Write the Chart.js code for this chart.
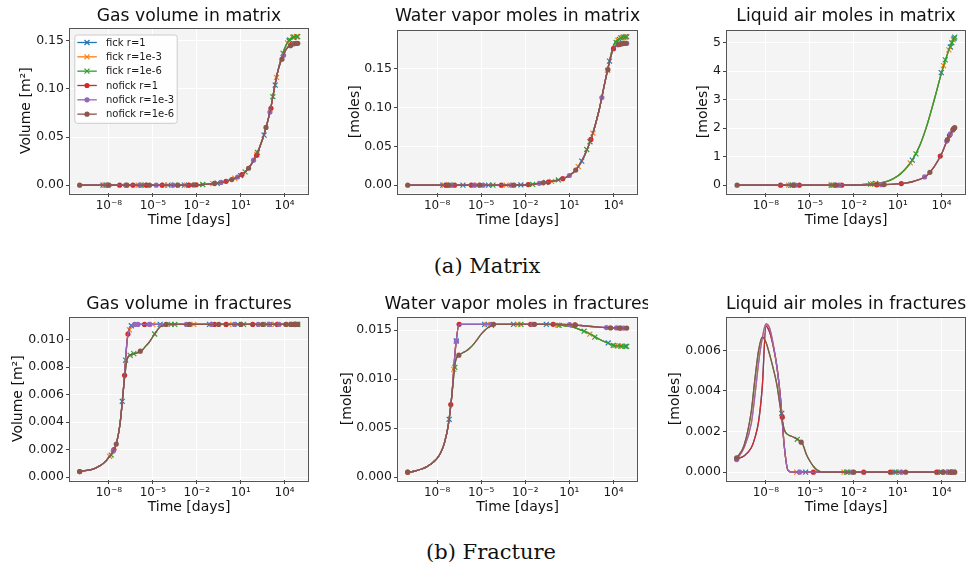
<!DOCTYPE html>
<html><head><meta charset="utf-8">
<script src="https://cdn.jsdelivr.net/npm/chart.js@4.4.0/dist/chart.umd.min.js"></script>
<style>
html,body{margin:0;padding:0;background:#fff;width:970px;height:568px;overflow:hidden;position:relative;font-family:"DejaVu Sans",sans-serif;}
.clipbox{position:absolute;left:0;overflow:hidden;height:30px;z-index:3;}
.ttl{position:absolute;width:400px;text-align:center;font-size:17.2px;line-height:17px;color:#111;white-space:nowrap;top:5px;}
.cap{position:absolute;width:300px;text-align:center;font-family:"DejaVu Serif",serif;font-size:21px;line-height:21px;color:#111;white-space:nowrap;z-index:3;}
</style></head><body>
<script>
// ---------------- data ----------------
const logTime = [-10,-9.5,-9,-8.75,-8.5,-8.25,-8,-7.75,-7.5,-7.25,-7,-6.75,-6.5,-6.25,-6,-5.75,-5.5,-5.25,-5,-4.75,-4.5,-4.25,-4,-3.5,-3,-2.5,-2,-1.5,-1,-0.5,0,0.5,1,1.5,2,2.5,3,3.5,4,4.5,4.9];

const seriesNames = ['fick r=1','fick r=1e-3','fick r=1e-6','nofick r=1','nofick r=1e-3','nofick r=1e-6'];
const xTickExps = [-8,-5,-2,1,4];
const xTickLabels = ['10\u207B\u2078','10\u207B\u2075','10\u207B\u00B2','10\u00B9','10\u2074'];

const gasMatrixYTicks = [0,0.05,0.10,0.15];
const waterMatrixYTicks = [0,0.05,0.10,0.15];
const liquidMatrixYTicks = [0,1,2,3,4,5];
const gasFracYTicks = [0,0.002,0.004,0.006,0.008,0.010];
const waterFracYTicks = [0,0.005,0.010,0.015];
const liquidFracYTicks = [0,0.002,0.004,0.006];

// curves on logTime grid
const gasMatrixFick = [0,0,0,0,0, 0,0,0,0,0, 0,0,0,0,0, 0,0,0,0,0, 0,0,0,0,0, 0.0001,0.0003,0.0008,0.0014,0.0024,0.0040,0.0065,0.0100,0.0168,0.0290,0.048,0.076,0.116,0.142,0.1535,0.1545];
const gasMatrixNofick = [0,0,0,0,0, 0,0,0,0,0, 0,0,0,0,0, 0,0,0,0,0, 0,0,0,0,0, 0.0001,0.0003,0.0008,0.0014,0.0024,0.0040,0.0065,0.0100,0.0168,0.0290,0.048,0.076,0.116,0.138,0.1468,0.1475];
const waterMatrixFick = [0,0,0,0,0, 0,0,0,0,0, 0,0,0,0,0, 0,0,0,0,0, 0,0,0,0,0, 0.0002,0.0005,0.0010,0.0025,0.0038,0.0055,0.0080,0.0125,0.021,0.037,0.061,0.095,0.140,0.180,0.190,0.1915];
const waterMatrixNofick = [0,0,0,0,0, 0,0,0,0,0, 0,0,0,0,0, 0,0,0,0,0, 0,0,0,0,0, 0.0002,0.0005,0.0010,0.0025,0.0038,0.0055,0.0080,0.0125,0.021,0.037,0.061,0.095,0.140,0.176,0.182,0.183];
const liquidMatrixFick = [0,0,0,0,0, 0,0,0,0,0, 0,0,0,0,0, 0,0,0,0,0, 0,0,0,0, 0.002,0.003,0.005,0.015,0.035,0.06,0.10,0.18,0.32,0.55,0.88,1.38,2.1,3.0,3.95,4.75,5.2];
const liquidMatrixNofick = [0,0,0,0,0, 0,0,0,0,0, 0,0,0,0,0, 0,0,0,0,0, 0,0,0,0, 0.001,0.0015,0.002,0.004,0.007,0.012,0.02,0.03,0.045,0.07,0.12,0.2,0.34,0.65,1.1,1.72,2.02];
const gasFracFast = [0.00040,0.00048,0.00062,0.00075,0.00090,0.00112,0.00145,0.0018,0.0024,0.0038,0.0065,0.0100,0.0110,0.0111,
  0.0111,0.0111,0.0111,0.0111,0.0111,0.0111,0.0111,0.0111,0.0111,0.0111,0.0111,0.0111,0.0111,0.0111,0.0111,0.0111,0.0111,0.0111,0.0111,0.0111,0.0111,0.0111,0.0111,0.0111,0.0111,0.0111,0.0111];
const gasFracSlow = [0.00040,0.00048,0.00062,0.00075,0.00090,0.00112,0.00145,0.0018,0.0024,0.0038,0.0065,0.0086,0.0089,0.00898,0.00905,0.0092,0.0095,0.0098,0.0102,0.0106,0.01093,0.0110,0.0111,
  0.0111,0.0111,0.0111,0.0111,0.0111,0.0111,0.0111,0.0111,0.0111,0.0111,0.0111,0.0111,0.0111,0.0111,0.0111,0.0111,0.0111,0.0111];
const waterFracFastFick = [0.00050,0.00062,0.00085,0.00102,0.00125,0.00155,0.0019,0.0025,0.0035,0.0052,0.0083,0.0132,0.0156,
  0.0156,0.0156,0.0156,0.0156,0.0156,0.0156,0.0156,0.0156,0.0156,0.0156,0.0156,0.0156,0.0156,0.0156,0.0156,0.0156,0.0156,
  0.01557,0.0155,0.0154,0.0152,0.0149,0.01455,0.0141,0.01375,0.01345,0.01337,0.01335];
const waterFracFastNofick = [0.00050,0.00062,0.00085,0.00102,0.00125,0.00155,0.0019,0.0025,0.0035,0.0052,0.0083,0.0132,0.0156,
  0.0156,0.0156,0.0156,0.0156,0.0156,0.0156,0.0156,0.0156,0.0156,0.0156,0.0156,0.0156,0.0156,0.0156,0.0156,0.0156,0.0156,
  0.0156,0.0156,0.01558,0.01553,0.01545,0.01538,0.01532,0.01527,0.01523,0.01522,0.01522];
const waterFracSlowFick = [0.00050,0.00062,0.00085,0.00102,0.00125,0.00155,0.0019,0.0025,0.0035,0.0052,0.0083,
  0.0118,0.01245,0.0127,0.0129,0.0132,0.0136,0.0141,0.0146,0.0150,0.0153,0.0155,0.0156,
  0.0156,0.0156,0.0156,0.0156,0.0156,0.0156,0.0156,
  0.01557,0.0155,0.0154,0.0152,0.0149,0.01455,0.0141,0.01375,0.01345,0.01337,0.01335];
const waterFracSlowNofick = [0.00050,0.00062,0.00085,0.00102,0.00125,0.00155,0.0019,0.0025,0.0035,0.0052,0.0083,
  0.0118,0.01245,0.0127,0.0129,0.0132,0.0136,0.0141,0.0146,0.0150,0.0153,0.0155,0.0156,
  0.0156,0.0156,0.0156,0.0156,0.0156,0.0156,0.0156,
  0.0156,0.0156,0.01558,0.01553,0.01545,0.01538,0.01532,0.01527,0.01523,0.01522,0.01522];
const liquidFracR1 = [0.00065,0.0008,0.0012,0.0017,0.0025,0.0042,0.0072,0.0069,0.0062,0.0052,0.0036,0.0013,0.0001,
  0,0,0,0,0,0,0,0,0,0,0,0,0,0,0,0,0,0,0,0,0,0,0,0,0,0,0,0];
const liquidFracR3 = [0.00062,0.0012,0.0024,0.0038,0.0054,0.0066,0.0073,0.0071,0.0063,0.0052,0.0036,0.0013,0.0001,
  0,0,0,0,0,0,0,0,0,0,0,0,0,0,0,0,0,0,0,0,0,0,0,0,0,0,0,0];
const liquidFracR6 = [0.0007,0.0013,0.0030,0.0046,0.0060,0.00665,0.0064,0.0058,0.0051,0.0043,0.0031,0.0021,0.00185,0.00177,0.00168,0.00157,0.0014,0.0009,0.00055,0.00028,0.0001,0.00002,
  0,0,0,0,0,0,0,0,0,0,0,0,0,0,0,0,0,0,0];

// marker points [log10 time, value]
const gasMatrixMarks = [
  [[-8.41,0],[-5.79,0],[-3.97,0],[-2.84,0],[-0.6,0.002],[1.0,0.0100],[2.6,0.052],[3.36,0.104],[4.3,0.150],[4.6,0.1538],[4.85,0.1545]],
  [[-8.3,0],[-6.0,0],[-4.2,0],[-2.7,0],[-0.9,0.0016],[0.6,0.0072],[2.1,0.032],[3.45,0.112],[4.2,0.148],[4.55,0.1537],[4.8,0.1545]],
  [[-8.2,0],[-5.6,0],[-3.5,0],[-1.59,0.0007],[1.3,0.0138],[2.15,0.034],[3.2,0.092],[3.9,0.137],[4.35,0.151],[4.65,0.154],[4.9,0.1545]],
  [[-7.27,0],[-6.36,0],[-5.45,0],[-4.36,0],[-2.54,0],[-2.04,0.0003],[0.0,0.004],[1.09,0.0110],[2.09,0.031],[3.07,0.080],[4.5,0.1468],[4.8,0.1474]],
  [[-8.13,0],[-6.86,0],[-5.9,0],[-4.77,0],[-3.63,0],[-0.34,0.0028],[0.79,0.0085],[1.88,0.026],[3.0,0.076],[3.93,0.135],[4.6,0.147]],
  [[-10,0],[-8.0,0],[-6.77,0],[-5.23,0],[-3.29,0],[-2.22,0.0002],[-0.79,0.0018],[0.39,0.0058],[1.54,0.0176],[2.73,0.060],[3.82,0.131],[4.4,0.145],[4.7,0.1472],[4.9,0.1475]]
];
const waterMatrixMarks = [
  [[-7.61,0],[-6.24,0],[-4.5,0],[-2.3,0.0003],[-0.6,0.0036],[1.84,0.031],[3.73,0.160],[4.4,0.188],[4.7,0.191],[4.9,0.1915]],
  [[-7.5,0],[-5.3,0],[-3.3,0],[-0.2,0.0048],[1.6,0.024],[2.6,0.067],[3.6,0.148],[4.3,0.187],[4.6,0.1905],[4.85,0.1915]],
  [[-7.1,0],[-4.2,0],[-1.5,0.001],[0.25,0.0067],[2.18,0.046],[2.4,0.056],[4.18,0.184],[4.5,0.190],[4.8,0.1912]],
  [[-7.38,0],[-6.81,0],[-5.67,0],[-3.63,0],[-1.8,0.0008],[-0.43,0.004],[0.55,0.0084],[2.46,0.059],[4.0,0.176],[4.4,0.1815],[4.75,0.183]],
  [[-7.04,0],[-5.44,0],[-4.87,0],[-2.95,0],[-1.05,0.0024],[1.0,0.0125],[3.21,0.113],[4.3,0.181],[4.6,0.1825],[4.9,0.183]],
  [[-10,0],[-7.22,0],[-5.1,0],[-2.77,0],[-0.78,0.003],[1.43,0.0195],[3.62,0.149],[4.35,0.1815],[4.55,0.1825],[4.7,0.183],[4.85,0.183]]
];
const liquidMatrixMarks = [
  [[-6.3,0],[-3.4,0],[-0.5,0.06],[2.0,0.88],[3.98,3.95],[4.6,4.85],[4.85,5.15]],
  [[-6.45,0],[-3.56,0],[-0.7,0.045],[1.86,0.78],[4.13,4.2],[4.5,4.75],[4.8,5.1]],
  [[-6.2,0],[-3.5,0],[-0.85,0.04],[2.25,1.1],[4.25,4.4],[4.7,5.0],[4.9,5.2]],
  [[-7.0,0],[-5.72,0],[-2.82,0.001],[-0.43,0.013],[1.25,0.057],[3.91,1.02],[4.54,1.75],[4.8,1.97]],
  [[-6.0,0],[-3.0,0],[-0.11,0.018],[2.84,0.29],[4.35,1.55],[4.6,1.8],[4.85,2.0]],
  [[-9.97,0],[-6.13,0],[-3.22,0],[0.07,0.021],[3.2,0.45],[4.4,1.6],[4.77,1.94],[4.9,2.02]]
];
const gasFracMarks = [
  [[-7.09,0.0055],[-6.86,0.0085],[-6.47,0.0110],[-4.5,0.0111],[-1.13,0.0111],[0.8,0.0111],[3.0,0.0111],[4.3,0.0111],[4.8,0.0111]],
  [[-7.95,0.0015],[-6.6,0.0107],[-5.0,0.0111],[-2.2,0.0111],[0.2,0.0111],[3.35,0.0111],[4.5,0.0111],[4.85,0.0111]],
  [[-7.85,0.0016],[-6.55,0.00885],[-6.3,0.00897],[-4.88,0.0104],[-3.75,0.0111],[-3.5,0.0111],[1.2,0.0111],[2.8,0.0111],[4.6,0.0111],[4.9,0.0111]],
  [[-10,0.0004],[-7.66,0.0020],[-6.93,0.0074],[-6.7,0.0104],[-5.57,0.0111],[-0.79,0.0111],[0.0,0.0111],[1.82,0.0111],[3.5,0.0111],[4.7,0.0111]],
  [[-7.7,0.0019],[-6.25,0.0111],[-6.02,0.0111],[-5.23,0.0111],[-2.71,0.0111],[-1.0,0.0111],[0.57,0.0111],[2.2,0.0111],[2.95,0.0111],[3.63,0.0111],[4.8,0.0111]],
  [[-10,0.0004],[-7.5,0.0024],[-5.86,0.00915],[-4.09,0.0111],[-2.5,0.0111],[-0.5,0.0111],[1.02,0.0111],[2.5,0.0111],[4.08,0.0111],[4.4,0.0111],[4.6,0.0111],[4.8,0.0111],[4.9,0.0111]]
];
const waterFracMarks = [
  [[-7.18,0.0059],[-6.7,0.0139],[-4.77,0.0156],[-2.8,0.0156],[-0.57,0.0156],[3.64,0.0137],[4.3,0.0134],[4.8,0.01335]],
  [[-6.86,0.0110],[-4.6,0.0156],[-2.5,0.0156],[0.2,0.01553],[2.39,0.0146],[4.1,0.01343],[4.6,0.01337]],
  [[-6.79,0.0112],[-4.3,0.0155],[-2.3,0.0156],[0.3,0.0155],[2.0,0.0149],[2.73,0.0143],[3.98,0.01346],[4.5,0.01337],[4.9,0.01335]],
  [[-10,0.0005],[-7.07,0.0074],[-6.5,0.0156],[-1.64,0.0156],[-0.11,0.0156],[1.37,0.01555],[4.5,0.01522]],
  [[-6.68,0.0139],[-4.3,0.0156],[-1.5,0.0156],[1.01,0.01558],[3.52,0.01527],[4.2,0.01523],[4.7,0.01522]],
  [[-10,0.0005],[-6.52,0.01245],[-4.16,0.0156],[-1.37,0.0156],[1.41,0.01553],[3.8,0.01524],[4.4,0.01522],[4.9,0.01522]]
];
const liquidFracMarks = [
  [[-6.92,0.0029],[-5.29,0],[-2.4,0],[0.9,0],[4.0,0],[4.6,0]],
  [[-5.9,0],[-2.67,0],[1.1,0],[4.3,0],[4.8,0]],
  [[-5.86,0.00162],[-2.5,0],[0.8,0],[3.9,0],[4.5,0]],
  [[-10,0.00065],[-6.88,0.0027],[-4.76,0],[-1.32,0],[0.5,0],[3.66,0],[4.7,0]],
  [[-10,0.00062],[-5.7,0],[-2.08,0],[1.26,0],[4.4,0],[4.85,0]],
  [[-10,0.0007],[-5.59,0.00148],[-2.0,0],[1.55,0],[4.1,0],[4.6,0],[4.9,0]]
];

// ---------------- styles / layout ----------------
const seriesColors = ['#1f77b4','#ff7f0e','#2ca02c','#d62728','#9467bd','#8c564b'];
const seriesMarkers = ['crossRot','crossRot','crossRot','circle','circle','circle'];
const X_MIN = Math.pow(10,-10.66), X_MAX = Math.pow(10,5.60);

const panels = [
 {title:'Gas volume in matrix', ylabel:'Volume [m\u00B2]', frame:[70,25,308,193], yTitleX:26.5, xTitleY:221, titleBase:21, clipRight:970,
  yMin:-0.00815, yMax:0.1629, yTicks:gasMatrixYTicks, dec:2, legend:true,
  curves:[gasMatrixFick,gasMatrixFick,gasMatrixFick,gasMatrixNofick,gasMatrixNofick,gasMatrixNofick], marks:gasMatrixMarks},
 {title:'Water vapor moles in matrix', ylabel:'[moles]', frame:[398,27,637,193], yTitleX:355.3, xTitleY:221, titleBase:21, clipRight:970,
  yMin:-0.0101, yMax:0.1995, yTicks:waterMatrixYTicks, dec:2, legend:false,
  curves:[waterMatrixFick,waterMatrixFick,waterMatrixFick,waterMatrixNofick,waterMatrixNofick,waterMatrixNofick], marks:waterMatrixMarks},
 {title:'Liquid air moles in matrix', ylabel:'[moles]', frame:[727,27,965,193], yTitleX:703.3, xTitleY:221, titleBase:21, clipRight:970,
  yMin:-0.275, yMax:5.43, yTicks:liquidMatrixYTicks, dec:0, legend:false,
  curves:[liquidMatrixFick,liquidMatrixFick,liquidMatrixFick,liquidMatrixNofick,liquidMatrixNofick,liquidMatrixNofick], marks:liquidMatrixMarks},
 {title:'Gas volume in fractures', ylabel:'Volume [m\u00B2]', frame:[70,314,308,480], yTitleX:18.8, xTitleY:507.5, titleBase:309, clipRight:970,
  yMin:-0.000214, yMax:0.0116, yTicks:gasFracYTicks, dec:3, legend:false,
  curves:[gasFracFast,gasFracFast,gasFracSlow,gasFracFast,gasFracFast,gasFracSlow], marks:gasFracMarks},
 {title:'Water vapor moles in fractures', ylabel:'[moles]', frame:[398,314,637,480], yTitleX:347.5, xTitleY:507.5, titleBase:309, clipRight:648,
  yMin:-0.0003, yMax:0.0163, yTicks:waterFracYTicks, dec:3, legend:false,
  curves:[waterFracFastFick,waterFracFastFick,waterFracSlowFick,waterFracFastNofick,waterFracFastNofick,waterFracSlowNofick], marks:waterFracMarks},
 {title:'Liquid air moles in fractures', ylabel:'[moles]', frame:[727,314,965,480], yTitleX:675.5, xTitleY:507.5, titleBase:309, clipRight:970,
  yMin:-0.000386, yMax:0.00762, yTicks:liquidFracYTicks, dec:3, legend:false,
  curves:[liquidFracR1,liquidFracR3,liquidFracR6,liquidFracR1,liquidFracR3,liquidFracR6], marks:liquidFracMarks}
];

function drawMarker(ctx, style, x, y, color){
  ctx.save(); ctx.strokeStyle=color; ctx.fillStyle=color; ctx.lineWidth=1.2;
  if(style==='circle'){ ctx.beginPath(); ctx.arc(x,y,2.6,0,Math.PI*2); ctx.fill(); }
  else { const d=2.5; ctx.beginPath(); ctx.moveTo(x-d,y-d); ctx.lineTo(x+d,y+d); ctx.moveTo(x-d,y+d); ctx.lineTo(x+d,y-d); ctx.stroke(); }
  ctx.restore();
}

const framePlugin = {
  id:'panelFrame',
  beforeDraw(chart){
    const {ctx, chartArea:a} = chart;
    ctx.save(); ctx.fillStyle='#f4f4f4'; ctx.fillRect(a.left,a.top,a.right-a.left,a.bottom-a.top); ctx.restore();
  },
  afterDraw(chart, args, opts){
    const {ctx, chartArea:a} = chart;
    ctx.save(); ctx.strokeStyle='#555'; ctx.lineWidth=1;
    ctx.strokeRect(Math.round(a.left)-0.5, Math.round(a.top)-0.5, Math.round(a.right-a.left)+1, Math.round(a.bottom-a.top)+1);
    ctx.restore();
    if(opts && opts.legend){
      const x0=a.left+4.3, y0=a.top+6, w=102.4, h=88.3;
      ctx.save();
      ctx.fillStyle='rgba(255,255,255,0.85)'; ctx.strokeStyle='#cccccc'; ctx.lineWidth=1;
      ctx.beginPath();
      if(ctx.roundRect){ ctx.roundRect(x0+0.5,y0+0.5,w,h,2.5); } else { ctx.rect(x0+0.5,y0+0.5,w,h); }
      ctx.fill(); ctx.stroke();
      ctx.font='10px "DejaVu Sans"'; ctx.textBaseline='middle'; ctx.textAlign='left';
      seriesNames.forEach((name,i)=>{
        const y=y0+8+i*14.33;
        ctx.strokeStyle=seriesColors[i]; ctx.lineWidth=1.3;
        ctx.beginPath(); ctx.moveTo(x0+3,y); ctx.lineTo(x0+22.5,y); ctx.stroke();
        drawMarker(ctx, seriesMarkers[i], x0+12.7, y, seriesColors[i]);
        ctx.fillStyle='#1a1a1a'; ctx.fillText(name, x0+31.7, y+0.5);
      });
      ctx.restore();
    }
  }
};

panels.forEach((p) => {
  const [L,T,R,B] = p.frame;
  const lh = 14*1.2;
  const cL = Math.round(p.yTitleX - lh/2);
  const cT = T - 6;
  const cR = R + 4;
  const cB = Math.round(p.xTitleY + lh/2);
  const cv = document.createElement('canvas');
  cv.width = cR-cL; cv.height = cB-cT;
  cv.style.cssText = 'position:absolute;left:'+cL+'px;top:'+cT+'px;width:'+(cR-cL)+'px;height:'+(cB-cT)+'px;z-index:1;';
  document.body.appendChild(cv);

  // title
  const clip = document.createElement('div');
  clip.className='clipbox';
  clip.style.top = (p.titleBase - 14.45 - 5) + 'px';
  clip.style.width = p.clipRight + 'px';
  const t = document.createElement('div');
  t.className='ttl'; t.textContent=p.title;
  t.style.left = ((L+R)/2 - 200) + 'px';
  clip.appendChild(t); document.body.appendChild(clip);

  const datasets = [];
  seriesNames.forEach((name,k)=>{
    datasets.push({
      label:name,
      data: logTime.map((lt,i)=>({x:Math.pow(10,lt), y:p.curves[k][i]})),
      borderColor:seriesColors[k], borderWidth:1.3, pointRadius:0, pointHoverRadius:0,
      cubicInterpolationMode:'monotone', fill:false, order:100-2*k
    });
    datasets.push({
      label:name+' markers',
      data: p.marks[k].map(m=>({x:Math.pow(10,m[0]), y:m[1]})),
      showLine:false, pointStyle:seriesMarkers[k],
      pointRadius: seriesMarkers[k]==='circle' ? 2.6 : 3.5,
      pointBorderWidth: seriesMarkers[k]==='circle' ? 0 : 1.2,
      pointBackgroundColor:seriesColors[k], pointBorderColor:seriesColors[k],
      borderColor:seriesColors[k], backgroundColor:seriesColors[k], order:99-2*k
    });
  });

  const tickFont = {family:'"DejaVu Sans"', size:12.5};
  new Chart(cv.getContext('2d'), {
    type:'line',
    data:{datasets},
    options:{
      responsive:false, animation:false, events:[],
      layout:{padding:{left:0,top:6,right:4,bottom:0}, autoPadding:false},
      plugins:{legend:{display:false}, tooltip:{enabled:false}, panelFrame:{legend:p.legend}},
      scales:{
        x:{type:'logarithmic', min:X_MIN, max:X_MAX, bounds:'data',
          afterBuildTicks(ax){ ax.ticks = xTickExps.map(e=>({value:Math.pow(10,e)})); },
          afterFit(ax){ ax.height = cB - B; },
          ticks:{callback:(v,i)=>xTickLabels[i], font:{family:'"DejaVu Sans"', size:12}, color:'#1a1a1a', padding:1.5, maxRotation:0, minRotation:0, autoSkip:false},
          grid:{color:'#ffffff', lineWidth:1, drawTicks:true, tickLength:4, tickColor:'#444', tickWidth:1},
          border:{display:false},
          title:{display:true, text:'Time [days]', font:{family:'"DejaVu Sans"', size:14}, color:'#111', padding:0}
        },
        y:{type:'linear', min:p.yMin, max:p.yMax, bounds:'data',
          afterBuildTicks(ax){ ax.ticks = p.yTicks.map(v=>({value:v})); },
          afterFit(ax){ ax.width = L - cL; },
          ticks:{callback:(v)=>Number(v).toFixed(p.dec), font:tickFont, color:'#1a1a1a', padding:2, autoSkip:false},
          grid:{color:'#ffffff', lineWidth:1, drawTicks:true, tickLength:4, tickColor:'#444', tickWidth:1},
          border:{display:false},
          title:{display:true, text:p.ylabel, font:{family:'"DejaVu Sans"', size:14}, color:'#111', padding:0}
        }
      }
    },
    plugins:[framePlugin]
  });
});

// captions
[['(a) Matrix',487,274],['(b) Fracture',491,560]].forEach(c=>{
  const d=document.createElement('div'); d.className='cap'; d.textContent=c[0];
  d.style.left=(c[1]-150)+'px'; d.style.top=(c[2]-17.8)+'px';
  document.body.appendChild(d);
});
</script>
</body></html>
